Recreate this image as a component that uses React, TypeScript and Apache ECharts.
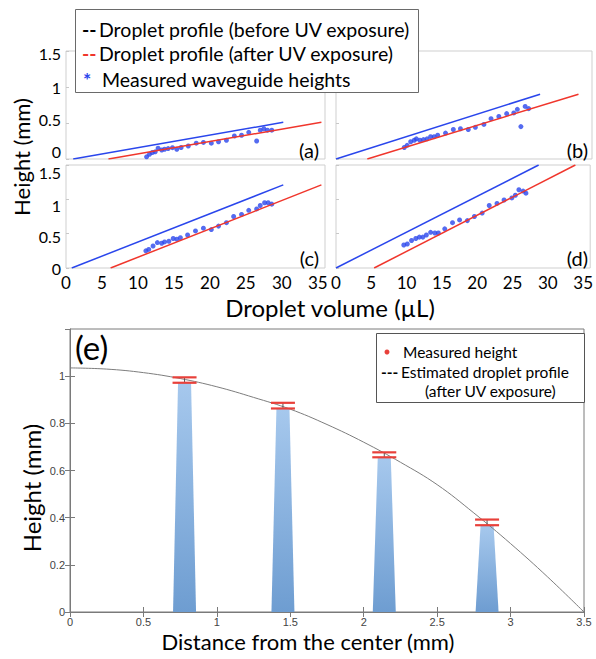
import React, { useEffect, useRef } from "react";
import * as echarts from "echarts";

// ---------- Data: droplet volume panels (a)-(d) ----------
// [volume (µL), height (mm)]
const aBefore = [[1.0, 0], [30.2, 0.51]];
const aAfter = [[5.9, 0], [35.5, 0.51]];
const aMeasured = [
  [11.2, 0.03], [11.6, 0.065], [12.0, 0.09], [12.4, 0.1], [12.8, 0.15], [13.3, 0.125],
  [13.7, 0.135], [14.2, 0.145], [14.8, 0.157], [15.4, 0.135], [16.0, 0.16], [17.0, 0.18],
  [18.1, 0.22], [19.1, 0.23], [20.2, 0.22], [21.2, 0.24], [22.3, 0.26], [23.4, 0.32],
  [24.4, 0.33], [25.4, 0.37], [26.5, 0.25], [27.0, 0.4], [27.5, 0.42], [28.0, 0.4], [28.6, 0.4],
];

const bBefore = [[0, 0], [28.7, 0.9]];
const bAfter = [[4.4, 0], [34.1, 0.9]];
const bMeasured = [
  [9.6, 0.16], [10.0, 0.19], [10.5, 0.24], [11.0, 0.26], [11.3, 0.28], [11.8, 0.26],
  [12.3, 0.27], [12.8, 0.28], [13.3, 0.31], [13.8, 0.31], [14.3, 0.33], [15.4, 0.36],
  [16.5, 0.41], [17.5, 0.42], [18.6, 0.41], [19.6, 0.44], [20.8, 0.48], [21.8, 0.56],
  [22.9, 0.59], [24.0, 0.63], [25.0, 0.64], [25.5, 0.69], [26.0, 0.45], [26.6, 0.73], [27.1, 0.7],
];

const cBefore = [[0.8, 0], [30.2, 1.21]];
const cAfter = [[6.2, 0], [35.5, 1.21]];
const cMeasured = [
  [11.1, 0.25], [11.5, 0.27], [12.1, 0.32], [12.7, 0.37], [13.3, 0.36], [13.7, 0.38],
  [14.3, 0.39], [14.9, 0.43], [15.4, 0.42], [15.9, 0.44], [16.9, 0.48], [18.0, 0.54],
  [19.1, 0.58], [20.2, 0.56], [21.2, 0.61], [22.3, 0.66], [23.3, 0.75], [24.4, 0.78],
  [25.4, 0.84], [26.5, 0.86], [27.0, 0.91], [27.6, 0.95], [28.1, 0.95], [28.6, 0.93],
];

const dBefore = [[0, 0], [28.7, 1.5]];
const dAfter = [[5.4, 0], [33.9, 1.5]];
const dMeasured = [
  [9.6, 0.335], [10.1, 0.35], [10.7, 0.4], [11.3, 0.43], [11.8, 0.45], [12.3, 0.45],
  [12.8, 0.48], [13.4, 0.52], [14.0, 0.51], [14.5, 0.51], [15.4, 0.57], [16.5, 0.66],
  [17.5, 0.7], [18.6, 0.69], [19.6, 0.75], [20.7, 0.8], [21.7, 0.91], [22.8, 0.94],
  [23.8, 0.99], [24.9, 1.02], [25.4, 1.06], [25.9, 1.14], [26.5, 1.12], [26.9, 1.09],
];

const panelLabels = ["(a)", "(b)", "(c)", "(d)"];

// ---------- Data: panel (e) ----------
// estimated droplet profile [distance (mm), height (mm)]
const profile = [
  [0, 1.035], [0.25, 1.03], [0.5, 1.015], [0.75, 0.99], [1.0, 0.955], [1.25, 0.91],
  [1.5, 0.86], [1.75, 0.795], [2.0, 0.72], [2.25, 0.635], [2.5, 0.54], [2.75, 0.42],
  [3.0, 0.29], [3.25, 0.15], [3.5, 0],
];
// waveguides: [centre distance, top height]
const waveguides = [[0.78, 0.972], [1.45, 0.863], [2.14, 0.656], [2.84, 0.368]];
// measured heights: [distance, low, high]
const measured = [[0.78, 0.972, 0.995], [1.45, 0.863, 0.887], [2.14, 0.656, 0.677], [2.84, 0.368, 0.392]];

const BLUE = "#2a46ec";
const RED = "#f0362c";
const CAL = "Lato, 'Open Sans', sans-serif";

// vertical nudges (px) of the y tick labels, top row / bottom row
const labelShift: Record<number, Record<string, number>> = {
  0: { "0": -8, "0.5": -4, "1": 0, "1.5": 2 },
  2: { "0": 0, "0.5": 3, "1": 6, "1.5": 7 },
};

function richFor(fs: number) {
  const r: any = {};
  [-8, -4, 0, 2, 3, 6, 7].forEach((d) => {
    const key = d < 0 ? `u${-d}` : `d${d}`;
    r[key] = {
      fontSize: fs,
      fontFamily: CAL,
      color: "#000",
      padding: d < 0 ? [0, 0, -2 * d, 0] : [2 * d, 0, 0, 0],
    };
  });
  return r;
}

export default function App() {
  const ref = useRef<HTMLDivElement>(null);
  useEffect(() => {
    if (!ref.current) return;
    const chart = echarts.init(ref.current, undefined, { renderer: "svg" });

    const grids: any[] = [
      { left: 66, top: 51, width: 259, height: 108 },
      { left: 336, top: 51, width: 256, height: 108 },
      { left: 66, top: 165, width: 259, height: 103 },
      { left: 336, top: 165, width: 256, height: 103 },
      { left: 70, top: 329, width: 514, height: 283 },
    ].map((g) => ({ ...g, show: true, borderColor: "#cfcfcf", borderWidth: 1, containLabel: false }));
    grids[4].borderColor = "#7a7a7a";

    const xAxes: any[] = [0, 1, 2, 3].map((i) => ({
      type: "value",
      gridIndex: i,
      min: 0,
      max: 36,
      interval: 5,
      axisLine: { show: false },
      axisTick: { show: false },
      splitLine: { show: false },
      axisLabel: {
        show: i >= 2,
        showMaxLabel: false,
        fontSize: 17,
        fontFamily: CAL,
        color: "#000",
        margin: 6,
      },
    }));
    const yAxes: any[] = [0, 1, 2, 3].map((i) => ({
      type: "value",
      gridIndex: i,
      min: 0,
      max: 1.5,
      interval: 0.5,
      axisLine: { show: false },
      axisTick: { show: true, inside: true, length: 3, lineStyle: { color: "#c8c8c8" } },
      splitLine: { show: false },
      axisLabel: {
        show: i === 0 || i === 2,
        fontSize: 16,
        fontFamily: CAL,
        color: "#000",
        margin: 5,
        formatter: (v: number) => {
          const s = String(v);
          const d = (labelShift[i] || {})[s] || 0;
          const key = d < 0 ? `u${-d}` : `d${d}`;
          return `{${key}|${s}}`;
        },
        rich: richFor(16),
      },
    }));
    // panel (e) axes
    const smallFont = { fontSize: 11, fontFamily: "'Liberation Sans', Arial, sans-serif", color: "#444" };
    xAxes.push({
      type: "value",
      gridIndex: 4,
      min: 0,
      max: 3.5,
      interval: 0.5,
      axisLine: { show: true, lineStyle: { color: "#7a7a7a" } },
      axisTick: { show: true, inside: true, length: 5, lineStyle: { color: "#7a7a7a" } },
      splitLine: { show: false },
      axisLabel: { ...smallFont, margin: 4 },
    });
    xAxes.push({
      type: "value",
      gridIndex: 4,
      position: "top",
      min: 0,
      max: 3.5,
      interval: 0.5,
      axisLine: { show: false },
      axisTick: { show: true, inside: true, length: 5, lineStyle: { color: "#7a7a7a" } },
      splitLine: { show: false },
      axisLabel: { show: false },
    });
    yAxes.push({
      type: "value",
      gridIndex: 4,
      min: 0,
      max: 1.2,
      interval: 0.2,
      axisLine: { show: true, lineStyle: { color: "#7a7a7a" } },
      axisTick: { show: true, inside: true, length: 5, lineStyle: { color: "#7a7a7a" } },
      splitLine: { show: false },
      axisLabel: { ...smallFont, showMaxLabel: false, margin: 5 },
    });
    yAxes.push({
      type: "value",
      gridIndex: 4,
      position: "right",
      min: 0,
      max: 1.2,
      interval: 0.2,
      axisLine: { show: false },
      axisTick: { show: true, inside: true, length: 5, lineStyle: { color: "#7a7a7a" } },
      splitLine: { show: false },
      axisLabel: { show: false },
    });

    const panels = [
      [aBefore, aAfter, aMeasured],
      [bBefore, bAfter, bMeasured],
      [cBefore, cAfter, cMeasured],
      [dBefore, dAfter, dMeasured],
    ];
    const series: any[] = [];
    panels.forEach(([before, after, meas], i) => {
      series.push({
        type: "line",
        xAxisIndex: i,
        yAxisIndex: i,
        data: before,
        symbol: "none",
        lineStyle: { color: BLUE, width: 1.5 },
      });
      series.push({
        type: "line",
        xAxisIndex: i,
        yAxisIndex: i,
        data: after,
        symbol: "none",
        lineStyle: { color: RED, width: 1.5 },
      });
      series.push({
        type: "scatter",
        xAxisIndex: i,
        yAxisIndex: i,
        data: meas,
        symbol: "circle",
        symbolSize: 5,
        itemStyle: { color: BLUE },
      });
    });

    // panel (e)
    series.push({
      type: "custom",
      xAxisIndex: 4,
      yAxisIndex: 4,
      data: waveguides,
      renderItem: (params: any, api: any) => {
        const x = api.value(0);
        const top = api.value(1);
        const b = api.coord([x, 0]);
        const t = api.coord([x, top]);
        return {
          type: "polygon",
          shape: {
            points: [
              [b[0] - 11.5, b[1]],
              [b[0] + 11.5, b[1]],
              [t[0] + 6.5, t[1]],
              [t[0] - 6.5, t[1]],
            ],
          },
          style: {
            fill: new echarts.graphic.LinearGradient(0, 0, 0, 1, [
              { offset: 0, color: "#a6c8ed" },
              { offset: 1, color: "#6e9dd1" },
            ]),
          },
        };
      },
    });
    series.push({
      type: "line",
      xAxisIndex: 4,
      yAxisIndex: 4,
      data: profile,
      smooth: 0.4,
      symbol: "none",
      lineStyle: { color: "#7d7d7d", width: 1 },
      z: 3,
    });
    series.push({
      type: "custom",
      xAxisIndex: 4,
      yAxisIndex: 4,
      data: measured,
      z: 4,
      renderItem: (params: any, api: any) => {
        const x = api.value(0);
        const lo = api.coord([x, api.value(1)]);
        const hi = api.coord([x, api.value(2)]);
        return {
          type: "group",
          children: [
            { type: "line", shape: { x1: lo[0], y1: lo[1], x2: hi[0], y2: hi[1] }, style: { stroke: "#555", lineWidth: 1 } },
            { type: "line", shape: { x1: lo[0] - 12, y1: lo[1], x2: lo[0] + 12, y2: lo[1] }, style: { stroke: "#e8403a", lineWidth: 2.2 } },
            { type: "line", shape: { x1: hi[0] - 12, y1: hi[1], x2: hi[0] + 12, y2: hi[1] }, style: { stroke: "#e8403a", lineWidth: 2.2 } },
          ],
        };
      },
    });

    const labelPos = [
      [319, 150],
      [588, 150],
      [319, 258],
      [588, 258],
    ];
    const LF = 19.5;
    const graphic: any[] = [
      // top legend
      {
        type: "rect",
        shape: { x: 75.5, y: 9.5, width: 343, height: 83 },
        style: { fill: "#fff", stroke: "#6a6a6a", lineWidth: 1 },
        z: 100,
      },
      { type: "text", x: 82, y: 29, z: 101, style: { text: "--", fill: "#000", fontSize: LF, fontWeight: "bold", fontFamily: CAL, verticalAlign: "middle" } },
      { type: "text", x: 99, y: 29, z: 101, style: { text: "Droplet profile (before UV exposure)", fill: "#000", fontSize: LF, fontFamily: CAL, verticalAlign: "middle" } },
      { type: "text", x: 82, y: 53, z: 101, style: { text: "--", fill: RED, fontSize: LF, fontWeight: "bold", fontFamily: CAL, verticalAlign: "middle" } },
      { type: "text", x: 99, y: 53, z: 101, style: { text: "Droplet profile (after UV exposure)", fill: "#000", fontSize: LF, fontFamily: CAL, verticalAlign: "middle" } },
      { type: "text", x: 83, y: 79, z: 101, style: { text: "*", fill: BLUE, fontSize: LF, fontWeight: "bold", fontFamily: CAL, verticalAlign: "middle" } },
      { type: "text", x: 102, y: 79, z: 101, style: { text: "Measured waveguide heights", fill: "#000", fontSize: LF, fontFamily: CAL, verticalAlign: "middle" } },
      // titles top
      { type: "text", x: 21, y: 157, rotation: Math.PI / 2, style: { text: "Height (mm)", fill: "#000", fontSize: 22, fontFamily: CAL, align: "center", verticalAlign: "middle" } },
      { type: "text", x: 330, y: 307, style: { text: "Droplet volume (µL)", fill: "#000", fontSize: 24, fontFamily: CAL, align: "center", verticalAlign: "middle" } },
      ...panelLabels.map((t, i) => ({
        type: "text",
        x: labelPos[i][0],
        y: labelPos[i][1],
        z: 50,
        style: { text: t, fill: "#000", fontSize: 20, fontFamily: CAL, align: "right", verticalAlign: "middle" },
      })),
      // panel (e)
      { type: "text", x: 75, y: 347, style: { text: "(e)", fill: "#000", fontSize: 33, fontFamily: CAL, verticalAlign: "middle" } },
      {
        type: "rect",
        shape: { x: 376.5, y: 333.5, width: 208, height: 69 },
        style: { fill: "#fff", stroke: "#555", lineWidth: 1 },
        z: 100,
      },
      { type: "circle", shape: { cx: 387, cy: 352, r: 2.5 }, style: { fill: "#e8403a" }, z: 101 },
      { type: "text", x: 403, y: 352, z: 101, style: { text: "Measured height", fill: "#000", fontSize: 15.5, fontFamily: CAL, verticalAlign: "middle" } },
      { type: "text", x: 381, y: 372, z: 101, style: { text: "---", fill: "#000", fontSize: 15.5, fontWeight: "bold", fontFamily: CAL, verticalAlign: "middle" } },
      { type: "text", x: 401, y: 372, z: 101, style: { text: "Estimated droplet profile", fill: "#000", fontSize: 15.5, fontFamily: CAL, verticalAlign: "middle" } },
      { type: "text", x: 425, y: 391, z: 101, style: { text: "(after UV exposure)", fill: "#000", fontSize: 15.5, fontFamily: CAL, verticalAlign: "middle" } },
      { type: "text", x: 31, y: 488, rotation: Math.PI / 2, style: { text: "Height (mm)", fill: "#000", fontSize: 24, fontFamily: CAL, align: "center", verticalAlign: "middle" } },
      { type: "text", x: 308, y: 641, style: { text: "Distance from the center (mm)", fill: "#000", fontSize: 22, fontFamily: CAL, align: "center", verticalAlign: "middle" } },
    ];

    chart.setOption({
      animation: false,
      backgroundColor: "#fff",
      grid: grids,
      xAxis: xAxes,
      yAxis: yAxes,
      series,
      graphic,
    });
    return () => chart.dispose();
  }, []);
  return <div ref={ref} style={{ position: "fixed", left: 0, top: 0, width: 596, height: 659 }} />;
}
